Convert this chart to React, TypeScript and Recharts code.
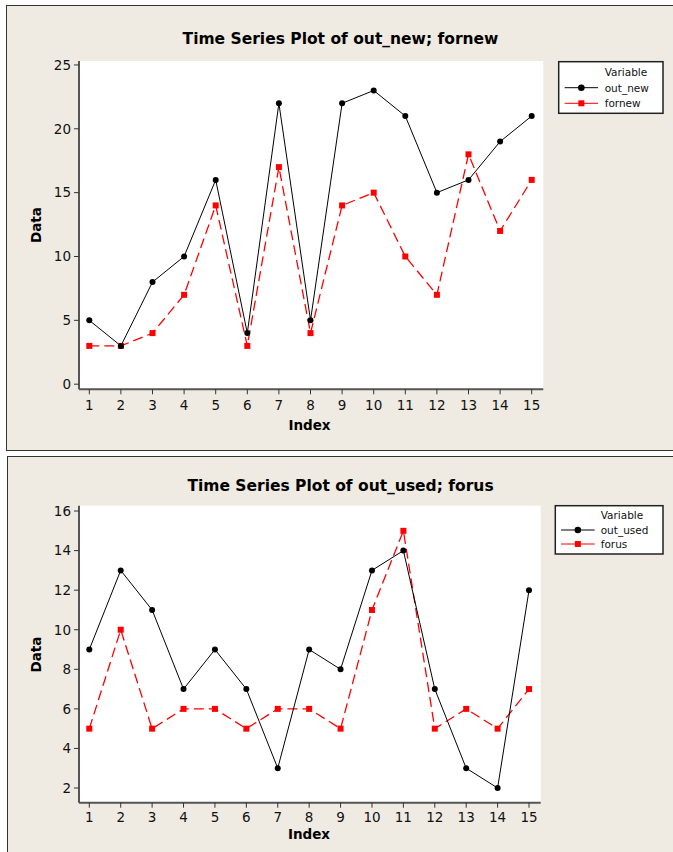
import React from "react";
import { CartesianGrid, Line, LineChart, XAxis, YAxis } from "recharts";

const INDEX = [1, 2, 3, 4, 5, 6, 7, 8, 9, 10, 11, 12, 13, 14, 15];

const OUT_NEW = [5, 3, 8, 10, 16, 4, 22, 5, 22, 23, 21, 15, 16, 19, 21];
const FORNEW = [3, 3, 4, 7, 14, 3, 17, 4, 14, 15, 10, 7, 18, 12, 16];

const OUT_USED = [9, 13, 11, 7, 9, 7, 3, 9, 8, 13, 14, 7, 3, 2, 12];
const FORUS = [5, 10, 5, 6, 6, 5, 6, 6, 5, 11, 15, 5, 6, 5, 7];

const TOP_Y_TICKS = [0, 5, 10, 15, 20, 25];
const BOTTOM_Y_TICKS = [2, 4, 6, 8, 10, 12, 14, 16];

const FONT = '"DejaVu Sans", Verdana, sans-serif';
const PANEL_BG = "#efebe2";
const RED = "#ff0000";

type Margin = { top: number; right: number; bottom: number; left: number };

interface ChartProps {
  first: number[];
  second: number[];
  width: number;
  height: number;
  margin: Margin;
  xDomain: [number, number];
  yDomain: [number, number];
  yTicks: number[];
  xTickMargin: number;
}

function SquareDot(props: any) {
  const { cx, cy, index } = props;
  if (cx == null || cy == null) return <g key={`sq-${index}`} />;
  return <rect key={`sq-${index}`} x={cx - 3} y={cy - 3} width={6} height={6} fill={RED} />;
}

function SeriesChart(props: ChartProps) {
  const rows = INDEX.map((index, i) => ({ index, a: props.first[i], b: props.second[i] }));
  const tick = { fill: "#111", fontSize: 13.5, fontFamily: FONT };

  return (
    <LineChart width={props.width} height={props.height} data={rows} margin={props.margin}>
      <CartesianGrid fill="#ffffff" fillOpacity={1} horizontal={false} vertical={false} />
      <XAxis
        dataKey="index"
        type="number"
        domain={props.xDomain}
        allowDataOverflow
        ticks={INDEX}
        interval={0}
        height={30}
        tickSize={5}
        tickMargin={props.xTickMargin}
        tick={tick}
        tickLine={{ stroke: "#333" }}
        axisLine={{ stroke: "#555", strokeWidth: 2 }}
      />
      <XAxis
        xAxisId="top"
        orientation="top"
        type="number"
        domain={props.xDomain}
        allowDataOverflow
        height={0}
        tick={false}
        tickLine={false}
        axisLine={{ stroke: "#222", strokeWidth: 1.5 }}
      />
      <YAxis
        type="number"
        domain={props.yDomain}
        allowDataOverflow
        ticks={props.yTicks}
        interval={0}
        width={40}
        tickSize={5}
        tickMargin={3}
        tick={tick}
        tickLine={{ stroke: "#333" }}
        axisLine={{ stroke: "#555", strokeWidth: 2 }}
      />
      <YAxis
        yAxisId="right"
        orientation="right"
        type="number"
        domain={props.yDomain}
        allowDataOverflow
        width={0}
        tick={false}
        tickLine={false}
        axisLine={{ stroke: "#222", strokeWidth: 1.5 }}
      />
      <Line
        dataKey="b"
        stroke={RED}
        strokeWidth={1.3}
        strokeDasharray="10 5"
        dot={(p: any) => <SquareDot {...p} key={`sq-${p.index}`} />}
        activeDot={false}
        isAnimationActive={false}
      />
      <Line
        dataKey="a"
        stroke="#000"
        strokeWidth={1}
        dot={{ r: 3, fill: "#000", stroke: "#000", strokeWidth: 0 }}
        activeDot={false}
        isAnimationActive={false}
      />
    </LineChart>
  );
}

function LegendBox(props: {
  x: number;
  y: number;
  w: number;
  h: number;
  headX: number;
  headY: number;
  lineX: [number, number];
  rowsY: [number, number];
  names: [string, string];
}) {
  const [x0, x1] = props.lineX;
  const mid = (x0 + x1) / 2;
  const textX = props.headX;
  const text = { fontFamily: FONT, fontSize: 10.5, fill: "#111" };
  return (
    <g>
      <rect x={props.x} y={props.y} width={props.w} height={props.h} fill="#fff" stroke="#222" strokeWidth={1.5} />
      <text x={textX} y={props.headY + 4} {...text}>
        Variable
      </text>
      <line x1={x0} x2={x1} y1={props.rowsY[0]} y2={props.rowsY[0]} stroke="#000" />
      <circle cx={mid} cy={props.rowsY[0]} r={3.3} fill="#000" />
      <text x={textX} y={props.rowsY[0] + 4} {...text}>
        {props.names[0]}
      </text>
      <line x1={x0} x2={x1} y1={props.rowsY[1]} y2={props.rowsY[1]} stroke={RED} />
      <rect x={mid - 3} y={props.rowsY[1] - 3} width={6} height={6} fill={RED} />
      <text x={textX} y={props.rowsY[1] + 4} {...text}>
        {props.names[1]}
      </text>
    </g>
  );
}

export default function App() {
  const titleStyle = { fontFamily: FONT, fontWeight: 700, fontSize: 15.5, fill: "#000" };
  const labelStyle = { fontFamily: FONT, fontWeight: 700, fontSize: 13.5, fill: "#000" };

  return (
    <div
      style={{
        position: "absolute",
        left: 0,
        top: 0,
        width: 673,
        height: 852,
        overflow: "hidden",
        background: "#fff",
      }}
    >
      <div
        style={{
          position: "absolute",
          left: 6,
          top: 5,
          width: 700,
          height: 446,
          boxSizing: "border-box",
          border: "1.5px solid #333",
          background: PANEL_BG,
        }}
      />
      <div
        style={{
          position: "absolute",
          left: 6.5,
          top: 456,
          width: 700,
          height: 420,
          boxSizing: "border-box",
          border: "1.5px solid #333",
          background: PANEL_BG,
        }}
      />

      <div style={{ position: "absolute", left: 0, top: 0 }}>
        <SeriesChart
          first={OUT_NEW}
          second={FORNEW}
          width={673}
          height={450}
          margin={{ top: 61, right: 129.7, bottom: 30.7, left: 39 }}
          xDomain={[0.674, 15.367]}
          yDomain={[-0.4, 25.31]}
          yTicks={TOP_Y_TICKS}
          xTickMargin={6.5}
        />
      </div>
      <div style={{ position: "absolute", left: 0, top: 452 }}>
        <SeriesChart
          first={OUT_USED}
          second={FORUS}
          width={673}
          height={400}
          margin={{ top: 53.7, right: 132.3, bottom: 19.3, left: 39 }}
          xDomain={[0.672, 15.372]}
          yDomain={[1.257, 16.27]}
          yTicks={BOTTOM_Y_TICKS}
          xTickMargin={4.5}
        />
      </div>

      <svg
        width={673}
        height={852}
        style={{ position: "absolute", left: 0, top: 0, pointerEvents: "none" }}
      >
        <text x={340.5} y={44} textAnchor="middle" {...titleStyle}>
          Time Series Plot of out_new; fornew
        </text>
        <text x={309.5} y={430} textAnchor="middle" {...labelStyle}>
          Index
        </text>
        <text x={40.5} y={225} textAnchor="middle" transform="rotate(-90 40.5 225)" {...labelStyle}>
          Data
        </text>
        <LegendBox
          x={558.7}
          y={61.7}
          w={104.3}
          h={51.6}
          headX={604.7}
          headY={72.3}
          lineX={[564.7, 598]}
          rowsY={[87.7, 103.3]}
          names={["out_new", "fornew"]}
        />

        <text x={340.5} y={490.6} textAnchor="middle" {...titleStyle}>
          Time Series Plot of out_used; forus
        </text>
        <text x={309} y={839} textAnchor="middle" {...labelStyle}>
          Index
        </text>
        <text x={40.5} y={654.5} textAnchor="middle" transform="rotate(-90 40.5 654.5)" {...labelStyle}>
          Data
        </text>
        <LegendBox
          x={555.3}
          y={505.7}
          w={107.7}
          h={48.3}
          headX={600.7}
          headY={515}
          lineX={[561, 594.7]}
          rowsY={[530, 544]}
          names={["out_used", "forus"]}
        />
      </svg>
    </div>
  );
}
